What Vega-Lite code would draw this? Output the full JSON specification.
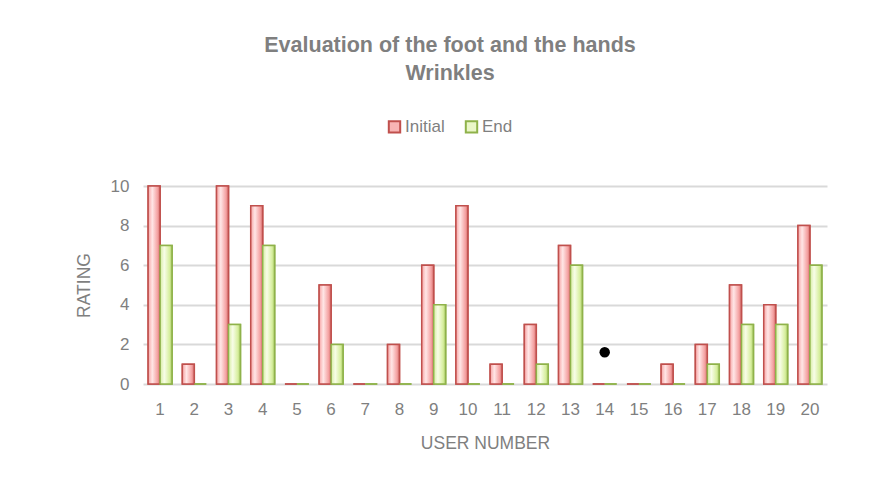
{
  "$schema": "https://vega.github.io/schema/vega-lite/v6.json",
  "width": 684,
  "height": 198,
  "autosize": {"type": "none"},
  "padding": {"left": 143, "top": 186, "right": 53, "bottom": 103},
  "background": "white",
  "title": {
    "text": ["Evaluation of the foot and the hands", "Wrinkles"],
    "font": "Liberation Sans",
    "fontSize": 21.5,
    "fontWeight": "bold",
    "color": "#7f7f7f",
    "anchor": "middle",
    "lineHeight": 28,
    "offset": 34,
    "dx": -35
  },
  "datasets": {
    "ratings": [
      {"user": 1, "series": "Initial", "rating": 10}, {"user": 1, "series": "End", "rating": 7},
      {"user": 2, "series": "Initial", "rating": 1}, {"user": 2, "series": "End", "rating": 0},
      {"user": 3, "series": "Initial", "rating": 10}, {"user": 3, "series": "End", "rating": 3},
      {"user": 4, "series": "Initial", "rating": 9}, {"user": 4, "series": "End", "rating": 7},
      {"user": 5, "series": "Initial", "rating": 0}, {"user": 5, "series": "End", "rating": 0},
      {"user": 6, "series": "Initial", "rating": 5}, {"user": 6, "series": "End", "rating": 2},
      {"user": 7, "series": "Initial", "rating": 0}, {"user": 7, "series": "End", "rating": 0},
      {"user": 8, "series": "Initial", "rating": 2}, {"user": 8, "series": "End", "rating": 0},
      {"user": 9, "series": "Initial", "rating": 6}, {"user": 9, "series": "End", "rating": 4},
      {"user": 10, "series": "Initial", "rating": 9}, {"user": 10, "series": "End", "rating": 0},
      {"user": 11, "series": "Initial", "rating": 1}, {"user": 11, "series": "End", "rating": 0},
      {"user": 12, "series": "Initial", "rating": 3}, {"user": 12, "series": "End", "rating": 1},
      {"user": 13, "series": "Initial", "rating": 7}, {"user": 13, "series": "End", "rating": 6},
      {"user": 14, "series": "Initial", "rating": 0}, {"user": 14, "series": "End", "rating": 0},
      {"user": 15, "series": "Initial", "rating": 0}, {"user": 15, "series": "End", "rating": 0},
      {"user": 16, "series": "Initial", "rating": 1}, {"user": 16, "series": "End", "rating": 0},
      {"user": 17, "series": "Initial", "rating": 2}, {"user": 17, "series": "End", "rating": 1},
      {"user": 18, "series": "Initial", "rating": 5}, {"user": 18, "series": "End", "rating": 3},
      {"user": 19, "series": "Initial", "rating": 4}, {"user": 19, "series": "End", "rating": 3},
      {"user": 20, "series": "Initial", "rating": 8}, {"user": 20, "series": "End", "rating": 6}
    ],
    "marker": [{"user": 14, "rating": 1.6}]
  },
  "encoding": {
    "x": {
      "field": "user", "type": "ordinal", "sort": "ascending",
      "scale": {"paddingInner": 0.3, "paddingOuter": 0.15},
      "axis": {
        "title": "USER NUMBER", "labelAngle": 0, "ticks": false, "domain": false,
        "labelFont": "Liberation Sans", "labelFontSize": 17, "labelColor": "#7f7f7f",
        "labelPadding": 17,
        "titleFont": "Liberation Sans", "titleFontSize": 17.5, "titleFontWeight": "normal",
        "titleColor": "#7f7f7f", "titlePadding": 17
      }
    },
    "y": {
      "field": "rating", "type": "quantitative",
      "scale": {"domain": [0, 10]},
      "axis": {
        "title": "RATING", "values": [0, 2, 4, 6, 8, 10], "ticks": false, "domain": false,
        "labelFont": "Liberation Sans", "labelFontSize": 17, "labelColor": "#7f7f7f",
        "labelPadding": 14,
        "gridColor": "#d9d9d9", "gridWidth": 2,
        "titleFont": "Liberation Sans", "titleFontSize": 17.5, "titleFontWeight": "normal",
        "titleColor": "#7f7f7f", "titlePadding": 17
      }
    }
  },
  "layer": [
    {
      "data": {"name": "ratings"},
      "mark": {"type": "bar", "strokeWidth": 1.5},
      "encoding": {
        "xOffset": {"field": "series", "type": "nominal", "scale": {"domain": ["Initial", "End"]}},
        "fill": {
          "field": "series", "type": "nominal",
          "scale": {"domain": ["Initial", "End"], "range": ["#f8b4b4", "#eaf7c8"]},
          "legend": {
            "title": null, "orient": "none", "direction": "horizontal",
            "legendX": 243, "legendY": -68,
            "symbolType": "square", "symbolSize": 130, "symbolStrokeWidth": 2,
            "labelFont": "Liberation Sans", "labelFontSize": 17, "labelColor": "#7f7f7f",
            "labelOffset": 2, "columnPadding": 16
          }
        },
        "stroke": {
          "field": "series", "type": "nominal",
          "scale": {"domain": ["Initial", "End"], "range": ["#c0504d", "#8fb24a"]},
          "legend": null
        }
      }
    },
    {
      "data": {"name": "ratings"},
      "transform": [{"filter": "datum.series === 'Initial'"}],
      "mark": {
        "type": "bar", "strokeWidth": 1.5, "stroke": "#c0504d",
        "fill": {"gradient": "linear", "x1": 0, "y1": 0, "x2": 1, "y2": 0,
          "stops": [{"offset": 0, "color": "#f6a3a3"}, {"offset": 0.35, "color": "#ffe6e6"}, {"offset": 0.8, "color": "#f4a0a0"}, {"offset": 1, "color": "#cf6b68"}]}
      },
      "encoding": {
        "xOffset": {"field": "series", "type": "nominal", "scale": {"domain": ["Initial", "End"]}}
      }
    },
    {
      "data": {"name": "ratings"},
      "transform": [{"filter": "datum.series === 'End'"}],
      "mark": {
        "type": "bar", "strokeWidth": 1.5, "stroke": "#8fb24a",
        "fill": {"gradient": "linear", "x1": 0, "y1": 0, "x2": 1, "y2": 0,
          "stops": [{"offset": 0, "color": "#d6eda0"}, {"offset": 0.35, "color": "#f8fde8"}, {"offset": 0.8, "color": "#d6ee9c"}, {"offset": 1, "color": "#a3c462"}]}
      },
      "encoding": {
        "xOffset": {"field": "series", "type": "nominal", "scale": {"domain": ["Initial", "End"]}}
      }
    },
    {
      "data": {"name": "marker"},
      "mark": {"type": "point", "filled": true, "color": "black", "size": 110, "opacity": 1},
      "encoding": {}
    }
  ],
  "config": {
    "view": {"stroke": null}
  }
}
